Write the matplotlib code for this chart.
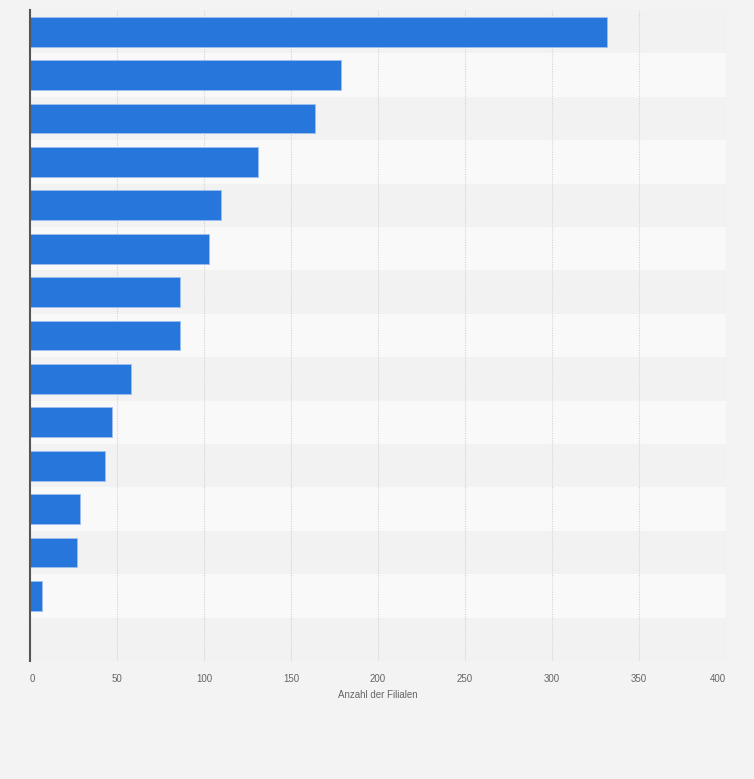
import matplotlib
matplotlib.use("Agg")
import matplotlib.pyplot as plt

plt.rcParams["font.family"] = ["Liberation Sans", "DejaVu Sans"]

# Data (category labels are not shown in the reference)
rows = list(range(15))
values = [332, 179, 164, 131, 110, 103, 86, 86, 58, 47, 43, 29, 27, 7, None]
xticks = [0, 50, 100, 150, 200, 250, 300, 350, 400]
xlabel = "Anzahl der Filialen"

W, H = 754, 779
fig = plt.figure(figsize=(W / 100, H / 100), dpi=100)
fig.patch.set_facecolor("#f3f3f3")
ax = fig.add_axes([30 / W, 1 - 661 / H, (725.7 - 30) / W, (661 - 10) / H])
ax.set_facecolor("#f3f3f3")

for i in rows:
    ax.axhspan(i - 0.5, i + 0.5, color="#f2f2f2" if i % 2 == 0 else "#f9f9f9",
               zorder=0, lw=0)

for i, v in zip(rows, values):
    if v is None:
        continue
    ax.barh(i, v, height=0.69, color="#2676db", edgecolor="#9cc0ee",
            linewidth=0.6, zorder=3)

ax.set_xlim(0, 400)
ax.set_ylim(14.5, -0.5)
ax.set_xticks(xticks)
ax.set_xticklabels([str(t) for t in xticks])
ax.set_yticks([])
ax.tick_params(axis="x", length=0, pad=9, labelsize=7, labelcolor="#666666")
labels = ax.get_xticklabels()
labels[0].set_horizontalalignment("left")
labels[-1].set_horizontalalignment("right")
ax.grid(axis="x", color="#d2d2d2", linestyle=(0, (1, 1.2)), linewidth=0.8, zorder=1)
ax.set_axisbelow(True)

for s in ["top", "right", "bottom"]:
    ax.spines[s].set_visible(False)
ax.spines["left"].set_color("#555555")
ax.spines["left"].set_linewidth(1.5)
ax.spines["left"].set_zorder(5)

ax.set_xlabel(xlabel, fontsize=7, color="#666666", labelpad=4.5)

fig.savefig("out.png", dpi=100, facecolor=fig.get_facecolor())
